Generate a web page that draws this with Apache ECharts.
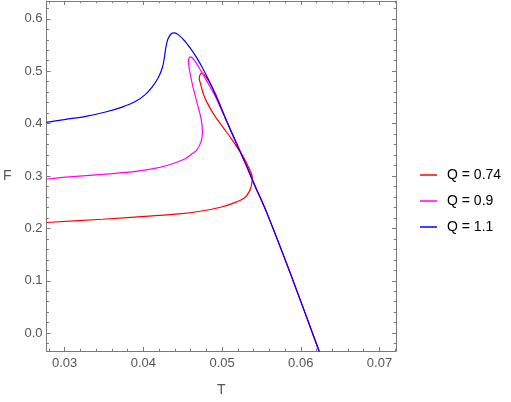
<!DOCTYPE html>
<html><head><meta charset="utf-8">
<script src="https://cdn.jsdelivr.net/npm/echarts@6/dist/echarts.min.js"></script>
<style>html,body{margin:0;padding:0;background:#fff}#c{width:511px;height:402px}</style>
</head><body><div id="c"></div>
<script>
// Data (T, F) along each curve, in drawing order
const seriesNames = ['Q = 0.74', 'Q = 0.9', 'Q = 1.1'];
const redT = [0.02768,0.03482,0.04112,0.04490,0.04742,0.04994,0.05161,0.05287,0.05350,0.05375,0.05384,0.05375,0.05346,0.05287,0.05208,0.05120,0.05019,0.04909,0.04805,0.04758,0.04729,0.04710,0.04736,0.04773,0.04830,0.04887,0.04956,0.05057,0.05183,0.05309,0.05413,0.05560,0.05875,0.06232,0.06253];
const redF = [0.2113,0.2175,0.2240,0.2282,0.2332,0.2409,0.2491,0.2585,0.2711,0.2836,0.2953,0.3038,0.3132,0.3321,0.3509,0.3708,0.3915,0.4142,0.4415,0.4585,0.4745,0.4868,0.4962,0.4934,0.4811,0.4660,0.4434,0.4047,0.3623,0.3198,0.2830,0.2330,0.1113,-0.0340,-0.0425];
const magentaT = [0.02768,0.03063,0.03482,0.03902,0.04112,0.04322,0.04531,0.04628,0.04679,0.04733,0.04751,0.04733,0.04679,0.04622,0.04584,0.04572,0.04594,0.04635,0.04720,0.04792,0.04855,0.04931,0.05057,0.05183,0.05309,0.05413,0.05560,0.05875,0.06232,0.06253];
const magentaF = [0.2943,0.2985,0.3032,0.3090,0.3135,0.3210,0.3330,0.3434,0.3496,0.3655,0.3843,0.4094,0.4415,0.4755,0.5038,0.5208,0.5274,0.5236,0.5038,0.4849,0.4679,0.4472,0.4047,0.3623,0.3198,0.2830,0.2330,0.1113,-0.0340,-0.0425];
const blueT = [0.02768,0.03016,0.03268,0.03520,0.03730,0.03898,0.04024,0.04108,0.04191,0.04242,0.04267,0.04285,0.04310,0.04351,0.04393,0.04443,0.04528,0.04603,0.04679,0.04754,0.04843,0.04931,0.05057,0.05183,0.05309,0.05413,0.05560,0.05875,0.06232,0.06253];
const blueF = [0.4025,0.4081,0.4138,0.4221,0.4315,0.4421,0.4553,0.4692,0.4881,0.5070,0.5258,0.5447,0.5604,0.5711,0.5730,0.5698,0.5572,0.5425,0.5255,0.5057,0.4792,0.4491,0.4057,0.3623,0.3198,0.2830,0.2330,0.1113,-0.0340,-0.0425];
const xTicks = [0.03,0.04,0.05,0.06,0.07];
const yTicks = [0.0,0.1,0.2,0.3,0.4,0.5,0.6];

const xMin = 0.0277, xMax = 0.0721, yMin = -0.034, yMax = 0.634;
const xMinor = [], yMinor = [];
for (let i = 14; i <= 36; i++) { const v = +(i*0.002).toFixed(3); if (v >= xMin && v <= xMax && i % 5 !== 0) xMinor.push(v); }
for (let i = -1; i <= 31; i++) { const v = +(i*0.02).toFixed(2); if (v >= yMin && v <= yMax && i % 5 !== 0) yMinor.push(v); }

const pair = (t, f) => t.map((v, i) => [v, f[i]]);
const frame = '#7a7a7a';
const labelColor = '#555';
const font = 'Liberation Sans, Arial, sans-serif';

function xa(pos, ticks, len, labels, line) {
  return {
    type: 'value', position: pos, min: xMin, max: xMax,
    axisLine: { show: line, onZero: false, lineStyle: { color: frame, width: 1 } },
    axisTick: { show: true, inside: true, length: len, customValues: ticks, lineStyle: { color: frame } },
    axisLabel: { show: labels, customValues: ticks, margin: 6, color: labelColor, fontSize: 13, fontFamily: font,
      formatter: v => v.toFixed(2) },
    splitLine: { show: false },
    name: labels ? 'T' : '', nameLocation: 'middle', nameGap: 32,
    nameTextStyle: { color: labelColor, fontSize: 14, fontFamily: font }
  };
}
function ya(pos, ticks, len, labels, line) {
  return {
    type: 'value', position: pos, min: yMin, max: yMax,
    axisLine: { show: line, onZero: false, lineStyle: { color: frame, width: 1 } },
    axisTick: { show: true, inside: true, length: len, customValues: ticks, lineStyle: { color: frame } },
    axisLabel: { show: labels, customValues: ticks, margin: 4, color: labelColor, fontSize: 13, fontFamily: font,
      formatter: v => v.toFixed(1) },
    splitLine: { show: false },
    name: labels ? 'F' : '', nameLocation: 'middle', nameGap: 35, nameRotate: 0,
    nameTextStyle: { color: labelColor, fontSize: 14, fontFamily: font }
  };
}

const chart = echarts.init(document.getElementById('c'), null, { renderer: 'canvas' });
const mk = (name, data, color) => ({
  name, type: 'line', data, xAxisIndex: 0, yAxisIndex: 0,
  showSymbol: false, symbol: 'none', smooth: 0.3, clip: true,
  lineStyle: { color, width: 1.2 }, itemStyle: { color }
});
chart.setOption({
  animation: false,
  grid: { left: 43, right: 115, top: 1, bottom: 47, containLabel: false },
  xAxis: [
    xa('bottom', xTicks, 4, true, true),
    xa('bottom', xMinor, 2.3, false, false),
    xa('top', xTicks, 4, false, true),
    xa('top', xMinor, 2.3, false, false)
  ],
  yAxis: [
    ya('left', yTicks, 4, true, true),
    ya('left', yMinor, 2.3, false, false),
    ya('right', yTicks, 4, false, true),
    ya('right', yMinor, 2.3, false, false)
  ],
  legend: {
    orient: 'vertical', left: 415, top: 163, itemGap: 12,
    itemWidth: 17, itemHeight: 1.5, icon: 'rect',
    textStyle: { color: '#000', fontSize: 14, fontFamily: font, padding: [0, 0, 0, 5] },
    data: seriesNames
  },
  series: [
    mk(seriesNames[0], pair(redT, redF), '#ff0000'),
    mk(seriesNames[1], pair(magentaT, magentaF), '#ff00ff'),
    mk(seriesNames[2], pair(blueT, blueF), '#0000ff')
  ]
});
</script></body></html>
